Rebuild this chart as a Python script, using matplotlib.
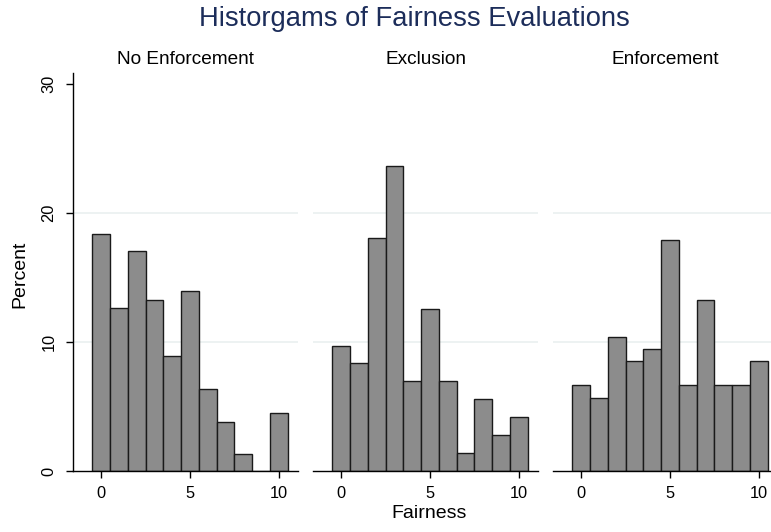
import matplotlib
matplotlib.use("Agg")
import matplotlib.pyplot as plt
import numpy as np

plt.rcParams['font.family'] = ['Liberation Sans', 'DejaVu Sans']

panels = ["No Enforcement", "Exclusion", "Enforcement"]
bins = list(range(0, 11))
no_enforcement = [18.35, 12.65, 17.08, 13.29, 8.88, 13.96, 6.32, 3.82, 1.29, 0.0, 4.46]
exclusion = [9.70, 8.34, 18.04, 23.61, 6.97, 12.52, 6.97, 1.39, 5.55, 2.76, 4.18]
enforcement = [6.63, 5.68, 10.40, 8.49, 9.42, 17.94, 6.63, 13.24, 6.63, 6.63, 8.49]
series = [no_enforcement, exclusion, enforcement]
yticks = [0, 10, 20, 30]
xticks = [0, 5, 10]

W, H = 771, 532
fig = plt.figure(figsize=(W / 100, H / 100), dpi=100)

lefts = [73, 313, 553]
pw = 225
bottom_px, top_px = 471, 73
x0_px = [101.3, 341.3, 581.3]
ppu = 17.74

for i, (name, vals) in enumerate(zip(panels, series)):
    ax = fig.add_axes([lefts[i] / W, (H - bottom_px) / H, pw / W, (bottom_px - top_px) / H])
    xl = (lefts[i] - x0_px[i]) / ppu
    xr = (lefts[i] + pw - x0_px[i]) / ppu
    ax.set_xlim(xl, xr)
    ax.set_ylim(0, 30.85)
    for g in [10, 20]:
        ax.axhline(g, color='#eaf0f0', lw=1.2, zorder=0)
    ax.bar(bins, vals, width=1.0, color='#8c8c8c', edgecolor='#1a1a1a', linewidth=1.0, zorder=2)
    for s in ['top', 'right']:
        ax.spines[s].set_visible(False)
    ax.spines['bottom'].set_linewidth(1.0)
    ax.set_xticks(xticks)
    ax.set_xticklabels([str(t) for t in xticks])
    ax.tick_params(axis='x', direction='out', length=5, width=1, labelsize=11.8, pad=6)
    if i == 0:
        ax.spines['left'].set_linewidth(1.0)
        ax.set_yticks(yticks)
        ax.set_yticklabels([str(t) for t in yticks], rotation=90, va='center')
        ax.tick_params(axis='y', direction='out', length=5, width=1, labelsize=11.8, pad=7)
    else:
        ax.spines['left'].set_visible(False)
        ax.set_yticks([])
    ax.set_facecolor('none')
    fig.text((lefts[i] + pw / 2) / W, 1 - 60 / H, name, ha='center', va='center', fontsize=13.7, color='black')

fig.text(0.538, 1 - 19 / H, "Historgams of Fairness Evaluations", ha='center', va='center',
         fontsize=19.7, color='#1c2d5a')
fig.text(429 / W, 1 - 513 / H, "Fairness", ha='center', va='center', fontsize=14)
fig.text(20 / W, 1 - 274 / H, "Percent", ha='center', va='center', fontsize=14, rotation=90)

fig.savefig("out.png", dpi=100)
